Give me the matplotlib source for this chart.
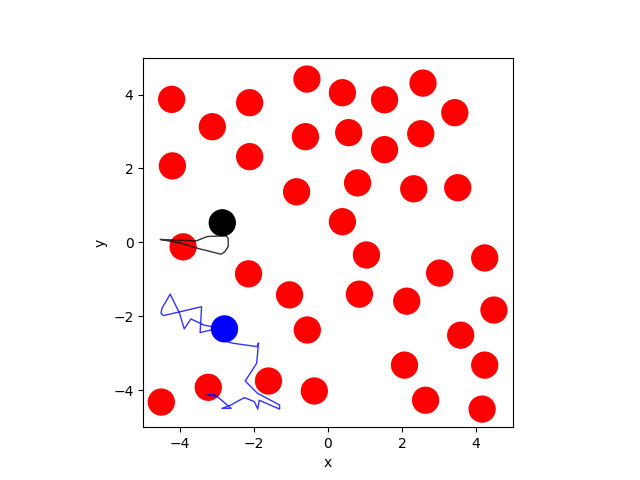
import matplotlib
matplotlib.use('Agg')
import matplotlib.pyplot as plt
from matplotlib.patches import Circle

# obstacles (red)
obs_x = [-4.23, -3.13, -2.12, -0.57, 0.39, 1.53, 2.57, 3.43,
         -4.21, -2.12, -0.61, 0.56, 2.51, 1.53, -0.85, 0.80, 2.32, 3.51,
         0.39, -3.92, 1.04, -2.15, 3.02, 4.24, -1.04, 0.85, 2.13, 4.49,
         -0.56, 3.59, -4.51, -3.24, -1.61, -0.37, 2.07, 4.24, 2.64, 4.17]
obs_y = [3.87, 3.13, 3.78, 4.42, 4.05, 3.86, 4.31, 3.51,
         2.07, 2.32, 2.86, 2.97, 2.94, 2.51, 1.37, 1.61, 1.45, 1.48,
         0.56, -0.12, -0.34, -0.85, -0.83, -0.42, -1.42, -1.40, -1.59, -1.83,
         -2.37, -2.51, -4.32, -3.92, -3.75, -4.02, -3.32, -3.32, -4.27, -4.51]
radius = 0.35

# agents
agent_pos = [(-2.86, 0.53), (-2.80, -2.34)]
agent_col = ['black', 'blue']

# trajectories
path_black_x = [-2.76, -3.26, -3.57, -4.54, -4.43, -3.98, -3.53, -2.89, -2.79, -2.70, -2.70, -2.76]
path_black_y = [0.18, 0.16, 0.04, 0.08, 0.06, -0.02, -0.16, -0.32, -0.25, -0.11, 0.11, 0.18]

path_blue_x = [-3.17, -3.46, -3.42, -4.45, -4.52, -4.49, -4.27, -4.02, -3.89, -3.71, -3.35, -2.80,
               -2.72, -2.56, -1.92, -1.88, -1.93, -2.24, -2.13, -1.91, -1.31, -1.31, -1.86, -1.90,
               -1.99, -2.26, -2.67, -2.87, -2.62, -2.94, -3.08, -3.28, -3.05]
path_blue_y = [-2.37, -2.44, -1.74, -1.98, -1.92, -1.78, -1.40, -1.91, -2.34, -2.07, -2.24, -2.34,
               -2.69, -2.73, -2.82, -2.72, -3.27, -3.75, -3.86, -4.08, -4.40, -4.51, -4.27, -4.51,
               -4.31, -4.20, -4.42, -4.49, -4.49, -4.22, -4.11, -4.13, -4.16]

fig, ax = plt.subplots(figsize=(6.4, 4.8), dpi=100)

for x, y in zip(obs_x, obs_y):
    ax.add_patch(Circle((x, y), radius, color='red', zorder=1))

ax.plot(path_black_x, path_black_y, color='black', alpha=0.8, lw=1, zorder=2)
ax.plot(path_blue_x, path_blue_y, color='blue', alpha=0.8, lw=1, zorder=2)

for (x, y), c in zip(agent_pos, agent_col):
    ax.add_patch(Circle((x, y), radius, color=c, zorder=3))

ax.set_xlim(-5, 5)
ax.set_ylim(-5, 5)
ax.set_aspect('equal')
ax.set_xlabel('x')
ax.set_ylabel('y')

plt.savefig('out.png')
